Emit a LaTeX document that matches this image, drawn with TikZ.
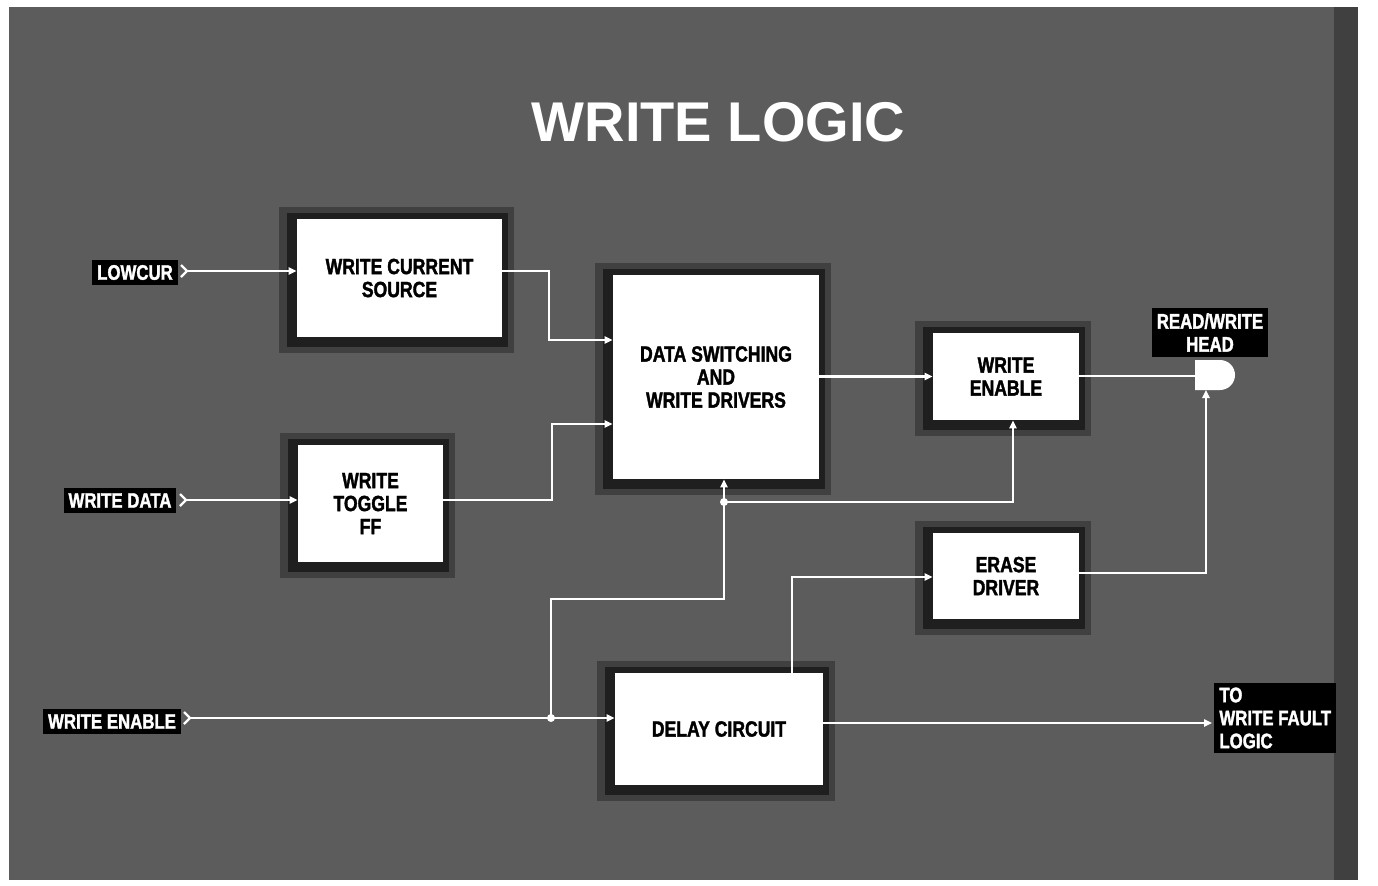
\documentclass[tikz,border=0pt]{standalone}
\usepackage{fontspec}
\newfontfamily\cond[FakeStretch=0.8,FakeBold=1.6]{Liberation Sans Bold}
\newfontfamily\titlefont{Liberation Sans}
\usetikzlibrary{arrows.meta,backgrounds}
\definecolor{bggray}{HTML}{5C5C5C}
\begin{document}
\begin{tikzpicture}[x=0.5pt,y=-0.5pt,
  blk/.style={fill=white, text=black, font=\cond\fontsize{11}{11.5}\selectfont, align=center, inner sep=0pt},
  lbl/.style={fill=black, text=white, font=\cond\fontsize{10.5}{11.5}\selectfont, inner sep=2.5pt},
  wire/.style={draw=white, line width=1.1pt},
  arr/.style={wire, -{Triangle[length=4pt,width=3.6pt]}},
  chev/.style={draw=white, line width=1.1pt},
]
\useasboundingbox (0,0) rectangle (1378,885);

% title
\node[text=white, font=\titlefont\bfseries\fontsize{28}{30}\selectfont, inner sep=0pt] (title) at (718.5,122.5) {WRITE LOGIC};

% blocks
\node[blk, minimum width=102.5pt, minimum height=59pt] (wcs) at (399.5,278) {WRITE CURRENT\\SOURCE};
\node[blk, minimum width=72.5pt, minimum height=58.5pt] (wtff) at (370.5,503.5) {WRITE\\TOGGLE\\FF};
\node[blk, minimum width=103pt, minimum height=102pt] (dsw) at (716,377) {DATA SWITCHING\\AND\\WRITE DRIVERS};
\node[blk, minimum width=73pt, minimum height=43.5pt] (we) at (1006,376.5) {WRITE\\ENABLE};
\node[blk, minimum width=73pt, minimum height=43pt] (ed) at (1006,576) {ERASE\\DRIVER};
\node[blk, minimum width=104pt, minimum height=56pt] (delay) at (719,729) {DELAY CIRCUIT};

% read/write head
\fill[white] (1195,360) -- (1220,360) arc[start angle=90, end angle=-90, radius=7.5pt] -- (1195,390) -- cycle;
\coordinate (headL) at (1195,376);
\coordinate (headB) at (1206,390);

% labels
\node[lbl] (lowcur) at (135,272.5) {LOWCUR};
\node[lbl] (wdata) at (120,500.5) {WRITE DATA};
\node[lbl] (wenable) at (112,721.5) {WRITE ENABLE};
\node[lbl, align=center] (headlbl) at (1210,332.5) {READ/WRITE\\HEAD};
\node[lbl, align=left, anchor=west] (fault) at (1214,718) {TO\\WRITE FAULT\\LOGIC};

% connector coordinates
\coordinate (lc) at (187,271);
\coordinate (wd) at (186,500);
\coordinate (we0) at (190,718);
\coordinate (j1) at (549,340);
\coordinate (j2) at (552,424);
\coordinate (j3) at (551,718);
\coordinate (j4) at (724,599);
\coordinate (j5) at (724,502);
\coordinate (j6) at (1013,502);
\coordinate (j7) at (792,577);
\coordinate (j8) at (1206,573);
\coordinate (fo) at (1212,723);

% input chevrons
\draw[chev] (181,265) -- (lc) -- (181,277);
\draw[chev] (180,494) -- (wd) -- (180,506);
\draw[chev] (184,712) -- (we0) -- (184,724);

% wires
\draw[arr] (lc) -- (wcs.west |- lc);
\draw[arr] (wcs.east |- lc) -| (j1) -- (dsw.west |- j1);
\draw[arr] (wd) -- (wtff.west |- wd);
\draw[arr] (wtff.east |- wd) -| (j2) -- (dsw.west |- j2);
\draw[arr] (we0) -- (delay.west |- we0);
\draw[arr] (j3) |- (j4) -- (dsw.south -| j4);
\draw[arr] (j5) -- (j6) -- (we.south -| j6);
\draw[arr] (dsw.east |- we.west) -- (we.west);
\draw[wire] (we.east |- headL) -- (headL);
\draw[arr] (delay.north -| j7) -- (j7) -- (ed.west |- j7);
\draw[arr] (ed.east |- j8) -- (j8) -- (headB);
\draw[arr] (delay.east |- fo) -- (fo);

% junction dots
\fill[white] (j3) circle (2pt);
\fill[white] (j5) circle (2pt);

% background and shadows
\begin{scope}[on background layer]
  \fill[white] (0,0) rectangle (1378,885);
  \fill[bggray] (9,7) rectangle (1358,880);
  \fill[black!75] (1334,7) rectangle (1358,880);
  \foreach \n in {wcs,wtff,dsw,we,ed,delay} {
    \fill[black,opacity=0.3] ([shift={(-9pt,6pt)}]\n.north west) rectangle ([shift={(6pt,-8pt)}]\n.south east);
    \fill[black,opacity=0.5] ([shift={(-5pt,3pt)}]\n.north west) rectangle ([shift={(3pt,-5pt)}]\n.south east);
  }
\end{scope}
\end{tikzpicture}
\end{document}
